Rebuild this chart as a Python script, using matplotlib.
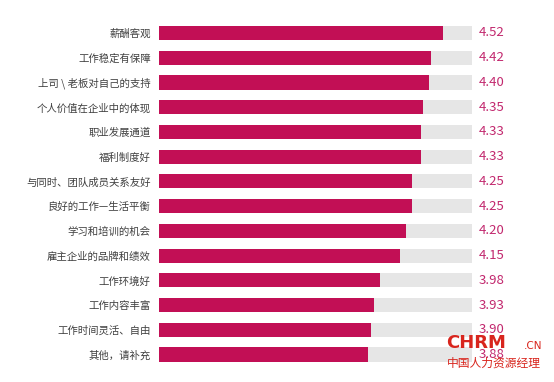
import matplotlib.pyplot as plt

plt.rcParams["font.family"] = ["Noto Sans CJK SC", "DejaVu Sans"]

categories = [
    "薪酬客观",
    "工作稳定有保障",
    "上司 \\ 老板对自己的支持",
    "个人价值在企业中的体现",
    "职业发展通道",
    "福利制度好",
    "与同时、团队成员关系友好",
    "良好的工作—生活平衡",
    "学习和培训的机会",
    "雇主企业的品牌和绩效",
    "工作环境好",
    "工作内容丰富",
    "工作时间灵活、自由",
    "其他，请补充",
]
scores = [4.52, 4.42, 4.40, 4.35, 4.33, 4.33, 4.25, 4.25, 4.20, 4.15, 3.98, 3.93, 3.90, 3.88]

x_min, x_max = 2.08, 4.77
bar_color = "#C20F55"
track_color = "#E6E6E6"
value_color = "#C2286E"

fig = plt.figure(figsize=(5.54, 3.82), dpi=100)
ax = fig.add_axes([0.287, 0.0395, 0.565, 0.9065])

pos = list(range(len(categories)))
ax.barh(pos, [x_max - x_min] * len(pos), left=x_min, height=0.57, color=track_color, zorder=1)
ax.barh(pos, scores, height=0.57, color=bar_color, zorder=2)

ax.set_xlim(x_min, x_max)
ax.set_ylim(len(pos) - 0.5, -0.5)
ax.set_yticks(pos)
ax.set_yticklabels(categories, fontsize=7.5, color="#404040")
ax.tick_params(axis="y", length=0, pad=6)
ax.set_xticks([])
for s in ax.spines.values():
    s.set_visible(False)

for p, v in zip(pos, scores):
    ax.annotate(f"{v:.2f}", xy=(1, p), xycoords=("axes fraction", "data"),
                xytext=(4.5, 0), textcoords="offset points",
                ha="left", va="center", fontsize=9.5, color=value_color)

# watermark
fig.text(0.806, 0.078, "CHRM", fontsize=13, fontweight="bold", color="#D8251D",
         ha="left", va="bottom", family="DejaVu Sans", zorder=5)
fig.text(0.945, 0.080, ".CN", fontsize=7.5, color="#D8251D", ha="left", va="bottom",
         family="DejaVu Sans", zorder=5)
fig.text(0.806, 0.032, "中国人力资源经理", fontsize=8.5, color="#D8251D",
         ha="left", va="bottom", zorder=5)

fig.savefig("out.png", dpi=100)
